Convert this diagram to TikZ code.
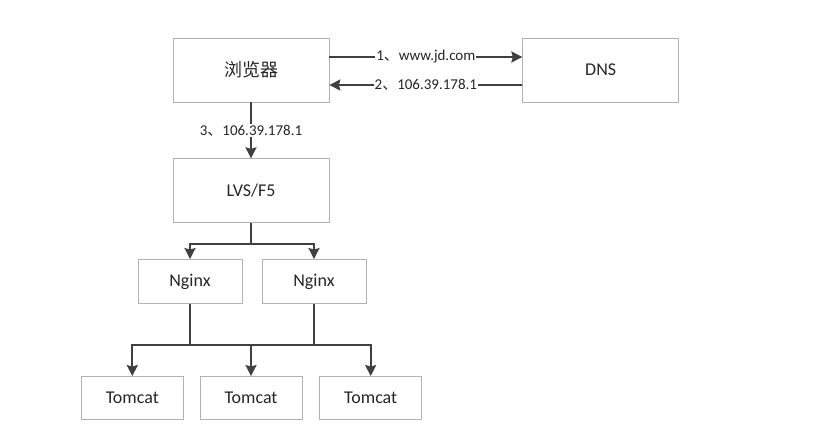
\documentclass[tikz,border=0pt]{standalone}
\usepackage{fontspec}
\setmainfont{Carlito}
\newfontfamily\cjk{Noto Sans CJK SC}
\usetikzlibrary{arrows.meta,positioning}

\begin{document}
\begin{tikzpicture}[x=1pt,y=-1pt,>={Stealth[length=11pt,width=11pt,inset=1.5pt]},semithick]
		\tikzset{box/.style={draw=gray!60,line width=0.7pt,text=black!85,font=\fontsize{18}{20}\selectfont},
			flow/.style={draw=black!75,line width=2pt},
			tag/.style={fill=white,inner sep=1pt,text=black!85,font=\fontsize{15}{17}\selectfont}}
		\useasboundingbox (0,0) rectangle (826,431);

		\node[box,minimum width=156pt,minimum height=64pt] (browser) at (251,70) {\cjk 浏览器};
		\node[box,minimum width=156pt,minimum height=64pt] (dns) [right=193pt of browser] {DNS};
		\node[box,minimum width=156pt,minimum height=64pt] (lvs) [below=56pt of browser] {LVS/F5};
		\node[box,minimum width=104pt,minimum height=44pt] (nginx1) [below=36pt of lvs,xshift=-61pt] {Nginx};
		\node[box,minimum width=104pt,minimum height=44pt] (nginx2) [below=36pt of lvs,xshift=63pt] {Nginx};
		\node[box,minimum width=102pt,minimum height=43pt] (tomcat2) [below=153pt of lvs] {Tomcat};
		\node[box,minimum width=102pt,minimum height=43pt] (tomcat1) [left=16pt of tomcat2] {Tomcat};
		\node[box,minimum width=102pt,minimum height=43pt] (tomcat3) [right=17pt of tomcat2] {Tomcat};

		\draw[flow,->] ([yshift=13pt]browser.east) -- node[tag] {1{\cjk 、}www.jd.com} ([yshift=13pt]dns.west);
		\draw[flow,->] ([yshift=-15pt]dns.west) -- node[tag] {2{\cjk 、}106.39.178.1} ([yshift=-15pt]browser.east);
		\draw[flow,->] (browser) -- node[tag] {3{\cjk 、}106.39.178.1} (lvs);

		\coordinate (split) at ([yshift=-21pt]lvs.south);
		\draw[flow,->] (lvs.south) -- (split) -| (nginx1);
		\draw[flow,->] (split) -| (nginx2);

		\coordinate (bus) at ([yshift=-41pt]nginx1.south);
		\draw[flow,->] (nginx1.south) -- (bus) -| (tomcat1);
		\draw[flow] (bus) -- (bus -| nginx2.south);
		\draw[flow,->] (nginx2.south) -- (bus -| nginx2.south) -| (tomcat3);
		\draw[flow,->] (bus -| tomcat2.north) -- (tomcat2);
	\end{tikzpicture}
\end{document}
